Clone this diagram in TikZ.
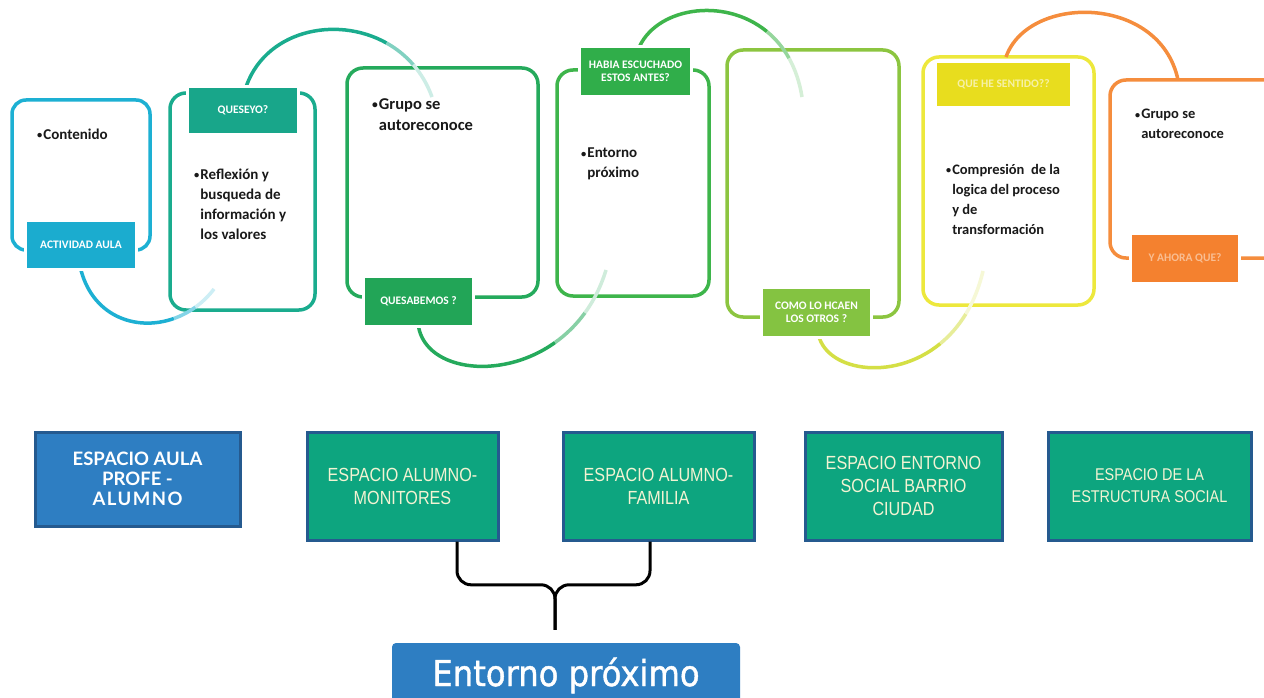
\documentclass[tikz,border=0pt]{standalone}
\usepackage{fontspec}
\usepackage{graphicx}
\setmainfont{Carlito}
\newfontfamily\narrowf[FakeStretch=0.85]{Liberation Sans}
\newfontfamily\latof{Lato}
\newfontfamily\dejaf[FakeBold=1.3]{DejaVu Sans}
\usetikzlibrary{calc}
\definecolor{cy}{HTML}{1DB0D3}
\definecolor{cyL}{HTML}{1BACCF}
\definecolor{te}{HTML}{1AAC8E}
\definecolor{teL}{HTML}{18A68A}
\definecolor{gA}{HTML}{25AA5C}
\definecolor{gAL}{HTML}{22A557}
\definecolor{gB}{HTML}{3EB54B}
\definecolor{gBL}{HTML}{30AE4A}
\definecolor{gC}{HTML}{8CC540}
\definecolor{gCL}{HTML}{84C341}
\definecolor{yl}{HTML}{EDE83C}
\definecolor{ylL}{HTML}{E8DD1E}
\definecolor{ylT}{HTML}{F6F1A8}
\definecolor{orr}{HTML}{F58D3D}
\definecolor{orL}{HTML}{F4812F}
\definecolor{orT}{HTML}{F9BE93}
\definecolor{arcY}{HTML}{D4DF45}
\definecolor{navy}{HTML}{255A8F}
\definecolor{blueF}{HTML}{2E7EC2}
\definecolor{greenF}{HTML}{0DA57F}
\definecolor{paleT}{HTML}{F3F3D3}
\newcommand\bl{\raisebox{0.1ex}{\scalebox{0.7}{\textbullet}}\kern1pt}
\newcommand\hg{\hphantom{\bl}}
\newcommand\gradarc[5]{%
  \path ($(#1)!0.72!(#2)$) coordinate (qA) ($(#2)!0.72!(#3)$) coordinate (qB)
        ($(#3)!0.72!(#4)$) coordinate (qC) ($(qA)!0.72!(qB)$) coordinate (qD)
        ($(qB)!0.72!(qC)$) coordinate (qE) ($(qD)!0.72!(qE)$) coordinate (qS);
  \path ($(qS)!0.5!(qE)$) coordinate (rA) ($(qE)!0.5!(qC)$) coordinate (rB)
        ($(qC)!0.5!(#4)$) coordinate (rC) ($(rA)!0.5!(rB)$) coordinate (rD)
        ($(rB)!0.5!(rC)$) coordinate (rE) ($(rD)!0.5!(rE)$) coordinate (rS);
  \draw[arcline, draw=#5] (#1) .. controls (qA) and (qD) .. (qS);
  \draw[arcline, draw=#5!55] (qS) .. controls (rA) and (rD) .. (rS);
  \draw[arcline, draw=#5!22] (rS) .. controls (rE) and (rC) .. (#4);
}
\tikzset{
  box/.style={draw, line width=3.5, rounded corners=16, inner sep=0, fill=none},
  lab/.style={fill=#1, preaction={draw=white, line width=6}, inner sep=0,
    align=center, text=white, font=\bfseries\fontsize{11.5}{13}\selectfont},
  bodyt/.style={anchor=north west, inner sep=0, align=left, text=black!90,
    font=\bfseries\fontsize{15}{20}\selectfont},
  arcline/.style={line width=3.5},
  espacio/.style={draw=navy, line width=3, fill=greenF, inner sep=0, align=center,
    text=paleT, font=\narrowf\fontsize{19}{23}\selectfont,
    minimum height=108},
  brace/.style={draw=black, line width=3, rounded corners=14}
}
\begin{document}
\begin{tikzpicture}[x=1pt,y=-1pt]
\useasboundingbox (0,0) rectangle (1264,698);
\fill[white] (0,0) rectangle (1264,698);
\clip (0,0) rectangle (1264,698);

% top row boxes
\node[box, draw=cy, rounded corners=14, minimum width=138, minimum height=150] (b1) at (81,175) {};
\node[box, draw=te, minimum width=145, minimum height=217] (b2) at (242.5,201.5) {};
\node[box, draw=gA, minimum width=191, minimum height=229] (b3) at (442.5,182.5) {};
\node[box, draw=gB, minimum width=152, minimum height=226] (b4) at (633,183) {};
\node[box, draw=gC, minimum width=172, minimum height=267] (b5) at (813,183.5) {};
\node[box, draw=yl, minimum width=171, minimum height=248] (b6) at (1008.5,181) {};
\node[box, draw=orr, minimum width=180, minimum height=178] (b7) at (1200,169) {};

% connector arcs
\coordinate (a1s) at (80,266); \coordinate (a1p) at (95,335); \coordinate (a1q) at (175,340); \coordinate (a1e) at (214,289);
\coordinate (a2s) at (245,90); \coordinate (a2p) at (270,8); \coordinate (a2q) at (400,8); \coordinate (a2e) at (432,97);
\coordinate (a3s) at (418,322); \coordinate (a3p) at (422,388); \coordinate (a3q) at (570,388); \coordinate (a3e) at (606,270);
\coordinate (a4s) at (638,50); \coordinate (a4p) at (660,-8); \coordinate (a4q) at (785,-10); \coordinate (a4e) at (802,97);
\coordinate (a5s) at (818,332); \coordinate (a5p) at (825,385); \coordinate (a5q) at (955,390); \coordinate (a5e) at (983,271);
\coordinate (a6s) at (1006,57); \coordinate (a6p) at (1028,-6); \coordinate (a6q) at (1160,-6); \coordinate (a6e) at (1178,80);
\gradarc{a1s}{a1p}{a1q}{a1e}{cy}
\gradarc{a2s}{a2p}{a2q}{a2e}{te}
\gradarc{a3s}{a3p}{a3q}{a3e}{gA}
\gradarc{a4s}{a4p}{a4q}{a4e}{gB}
\gradarc{a5s}{a5p}{a5q}{a5e}{arcY}
\draw[arcline, draw=orr] (a6s) .. controls (a6p) and (a6q) .. (a6e);

% labels
\node[lab=cyL, minimum width=108, minimum height=46] (l1) at (81,245) {ACTIVIDAD AULA};
\node[lab=teL, minimum width=108, minimum height=45] (l2) at (243,110.5) {QUESEYO?};
\node[lab=gAL, minimum width=107, minimum height=47] (l3) at (418.5,301.5) {QUESABEMOS ?};
\node[lab=gBL, minimum width=109, minimum height=47] (l4) at (635.5,71.5) {HABIA ESCUCHADO\\ESTOS ANTES?};
\node[lab=gCL, minimum width=107, minimum height=47] (l5) at (816.5,312.5) {COMO LO HCAEN\\LOS OTROS ?};
\node[lab=ylL, text=ylT, minimum width=133, minimum height=43] (l6) at (1003.5,84.5) {QUE HE SENTIDO??};
\node[lab=orL, text=orT, minimum width=106, minimum height=47] (l7) at (1185,258.5) {Y AHORA QUE?};

% body texts
\node[bodyt] (t1) at (37,129) {\bl Contenido};
\node[bodyt] (t2) at (194,169) {\bl Reflexión y\\\hg busqueda de\\\hg información y\\\hg los valores};
\node[bodyt, font=\bfseries\fontsize{16.5}{21}\selectfont] (t3) at (372,98) {\bl Grupo se\\\hg autoreconoce};
\node[bodyt] (t4) at (581,148) {\bl Entorno\\\hg próximo};
\node[bodyt, font=\bfseries\fontsize{14.5}{20}\selectfont] (t6) at (946,164) {\bl Compresión\ \ de la\\\hg logica del proceso\\\hg y de\\\hg transformación};
\node[bodyt, font=\bfseries\fontsize{14.5}{20}\selectfont] (t7) at (1135,109) {\bl Grupo se\\\hg autoreconoce};

% bottom row
\node[espacio, draw=navy, fill=blueF, text=white, minimum width=205, minimum height=94,
  font=\latof\bfseries\fontsize{18.5}{20}\selectfont] (bA) at (137.5,479)
  {ESPACIO AULA\\PROFE -\\{\addfontfeature{LetterSpace=8}ALUMNO}};
\node[espacio, minimum width=191] (bB) at (402.5,486) {ESPACIO ALUMNO-\\MONITORES};
\node[espacio, minimum width=191] (bC) at (658.5,486) {ESPACIO ALUMNO-\\FAMILIA};
\node[espacio, minimum width=197] (bD) at (903.5,486) {ESPACIO ENTORNO\\SOCIAL BARRIO\\CIUDAD};
\node[espacio, minimum width=203, font=\narrowf\fontsize{17}{22}\selectfont] (bE) at (1149.5,486) {ESPACIO DE LA\\ESTRUCTURA SOCIAL};

\node[fill=blueF, rounded corners=4, inner sep=0, minimum width=348, minimum height=66,
  text height=27, text depth=7, text=white, font=\dejaf\fontsize{31}{36}\selectfont]
  (ent) at (566,676) {\scalebox{1.04}[1.15]{Entorno próximo}};

% brace
\coordinate (cL) at ($(bB.south)+(54.5,0)$);
\coordinate (cR) at ($(bC.south)+(-8.5,0)$);
\coordinate (cS) at ($(ent.north)+(-11,-13)$);
\coordinate (cM) at ($(cS)+(0,-45)$);
\draw[brace] (cL) -- (cL |- cM) -- (cM) -- (cS);
\draw[brace] (cR) -- (cR |- cM) -- (cM) -- (cS);
\end{tikzpicture}
\end{document}
